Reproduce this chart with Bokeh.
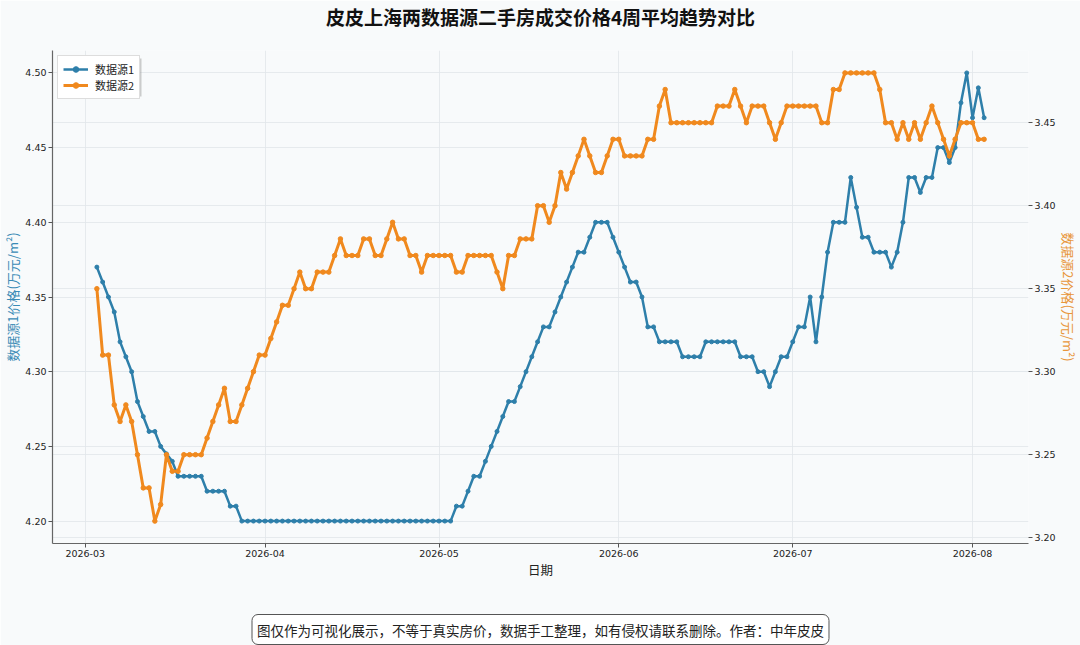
import pandas as pd
from bokeh.plotting import figure
from bokeh.models import (Range1d, LinearAxis, Grid, FixedTicker, DatetimeTickFormatter,
                          MonthsTicker, PrintfTickFormatter, Legend, LegendItem, Title,
                          BoxAnnotation)
from bokeh.embed import file_html
from bokeh.resources import INLINE

# ---------------- data ----------------
start_date = "2026-03-03"

source1_price = [
    4.37, 4.36, 4.35, 4.34, 4.32, 4.31, 4.30, 4.28, 4.27, 4.26,
    4.26, 4.25, 4.245, 4.24, 4.23, 4.23, 4.23, 4.23, 4.23, 4.22,
    4.22, 4.22, 4.22, 4.21, 4.21,
    4.20, 4.20, 4.20, 4.20, 4.20, 4.20, 4.20, 4.20, 4.20, 4.20,
    4.20, 4.20, 4.20, 4.20, 4.20, 4.20, 4.20, 4.20, 4.20, 4.20,
    4.20, 4.20, 4.20, 4.20, 4.20, 4.20, 4.20, 4.20, 4.20, 4.20,
    4.20, 4.20, 4.20, 4.20, 4.20, 4.20, 4.20,
    4.21, 4.21, 4.22, 4.23, 4.23, 4.24, 4.25, 4.26, 4.27, 4.28,
    4.28, 4.29, 4.30, 4.31, 4.32, 4.33, 4.33, 4.34, 4.35, 4.36,
    4.37, 4.38, 4.38, 4.39, 4.40, 4.40, 4.40, 4.39, 4.38, 4.37,
    4.36, 4.36, 4.35, 4.33, 4.33, 4.32, 4.32, 4.32, 4.32, 4.31,
    4.31, 4.31, 4.31,
    4.32, 4.32, 4.32, 4.32, 4.32, 4.32, 4.31, 4.31, 4.31, 4.30,
    4.30, 4.29, 4.30, 4.31, 4.31, 4.32, 4.33, 4.33, 4.35, 4.32,
    4.35, 4.38, 4.40, 4.40, 4.40, 4.43, 4.41, 4.39, 4.39, 4.38,
    4.38, 4.38, 4.37, 4.38, 4.40, 4.43, 4.43, 4.42, 4.43, 4.43,
    4.45, 4.45, 4.44, 4.45, 4.48, 4.50, 4.47, 4.49, 4.47,
]

source2_price = [
    3.35, 3.31, 3.31, 3.28, 3.27, 3.28, 3.27, 3.25, 3.23, 3.23,
    3.21, 3.22, 3.25, 3.24, 3.24, 3.25, 3.25, 3.25, 3.25, 3.26,
    3.27, 3.28, 3.29, 3.27, 3.27, 3.28, 3.29, 3.30, 3.31, 3.31,
    3.32, 3.33, 3.34, 3.34, 3.35, 3.36, 3.35, 3.35, 3.36, 3.36,
    3.36, 3.37, 3.38, 3.37, 3.37, 3.37, 3.38, 3.38, 3.37, 3.37,
    3.38, 3.39, 3.38, 3.38, 3.37, 3.37, 3.36, 3.37, 3.37, 3.37,
    3.37, 3.37, 3.36, 3.36, 3.37, 3.37, 3.37, 3.37, 3.37, 3.36,
    3.35, 3.37, 3.37, 3.38, 3.38, 3.38, 3.40, 3.40, 3.39, 3.40,
    3.42, 3.41, 3.42, 3.43, 3.44, 3.43, 3.42, 3.42, 3.43, 3.44,
    3.44, 3.43, 3.43, 3.43, 3.43, 3.44, 3.44, 3.46, 3.47, 3.45,
    3.45, 3.45, 3.45, 3.45, 3.45, 3.45, 3.45, 3.46, 3.46, 3.46,
    3.47, 3.46, 3.45, 3.46, 3.46, 3.46, 3.45, 3.44, 3.45, 3.46,
    3.46, 3.46, 3.46, 3.46, 3.46, 3.45, 3.45, 3.47, 3.47, 3.48,
    3.48, 3.48, 3.48, 3.48, 3.48, 3.47, 3.45, 3.45, 3.44, 3.45,
    3.44, 3.45, 3.44, 3.45, 3.46, 3.45, 3.44, 3.43, 3.44, 3.45,
    3.45, 3.45, 3.44, 3.44,
]

left_ticks = [4.20, 4.25, 4.30, 4.35, 4.40, 4.45, 4.50]
right_ticks = [3.20, 3.25, 3.30, 3.35, 3.40, 3.45]

title_text = "皮皮上海两数据源二手房成交价格4周平均趋势对比"
left_label = "数据源1价格(万元/m²)"
right_label = "数据源2价格(万元/m²)"
x_label = "日期"
series_names = ["数据源1", "数据源2"]
footer_text = "图仅作为可视化展示，不等于真实房价，数据手工整理，如有侵权请联系删除。作者：中年皮皮"

# ---------------- style ----------------
BLUE = "#2E7FAA"
ORANGE = "#F0891E"
BG = "#f8fafb"
CJK = "Noto Sans CJK SC"
NUM = "DejaVu Sans"

dates = pd.date_range(start_date, periods=len(source1_price), freq="D")
pad = pd.Timedelta(days=(dates[-1] - dates[0]).days * 0.05)

lo1, hi1 = min(source1_price), max(source1_price)
lo2, hi2 = min(source2_price), max(source2_price)
m1 = (hi1 - lo1) * 0.05
m2 = (hi2 - lo2) * 0.05

p = figure(width=1080, height=645, x_axis_type="datetime",
           x_range=Range1d(dates[0] - pad, dates[-1] + pad),
           y_range=Range1d(lo1 - m1, hi1 + m1),
           output_backend="svg", toolbar_location=None, title_location=None,
           min_border_left=51, min_border_right=52, min_border_top=0, min_border_bottom=0,
           background_fill_color=BG, border_fill_color=BG, outline_line_color=None)

p.extra_y_ranges = {"right": Range1d(lo2 - m2, hi2 + m2)}

# axes
xa = p.xaxis[0]
xa.ticker = MonthsTicker(months=list(range(1, 13)))
xa.formatter = DatetimeTickFormatter(months="%Y-%m", days="%Y-%m")
xa.axis_label = x_label
ya = p.yaxis[0]
ya.ticker = FixedTicker(ticks=left_ticks)
ya.formatter = PrintfTickFormatter(format="%.2f")
ya.axis_label = left_label
ya.axis_label_text_color = "#3a8bb6"

ra = LinearAxis(y_range_name="right", ticker=FixedTicker(ticks=right_ticks),
                formatter=PrintfTickFormatter(format="%.2f"), axis_label=right_label)
ra.axis_label_text_color = "#e8963a"
p.add_layout(ra, "right")

for ax in (xa, ya, ra):
    ax.major_label_text_font = NUM
    ax.major_label_text_font_size = "9.5px"
    ax.major_label_text_color = "#222222"
    ax.major_tick_out = 4
    ax.major_tick_in = 0
    ax.minor_tick_line_color = None
    ax.major_tick_line_color = "#555555"
    ax.major_label_standoff = 2
    ax.axis_label_text_font = CJK
    ax.axis_label_text_font_style = "normal"
    ax.axis_label_text_font_size = "13px"
    ax.axis_label_standoff = 0
    ax.axis_line_color = "#666666"
    ax.axis_line_width = 1.2
ra.axis_line_color = None
xa.axis_label_text_font_size = "12.5px"
xa.axis_label_text_color = "#222222"
xa.axis_label_standoff = 0

# title (outer) with a thin spacer between it and the frame
p.add_layout(Title(text=" ", text_font_size="1px", standoff=18), "above")
p.add_layout(Title(text=title_text, align="center", text_font=CJK, text_font_size="19px",
                   text_font_style="bold", text_color="#111111", standoff=0), "above")

# footer below the x axis, after a spacer
p.add_layout(Title(text=" ", text_font_size="1px", standoff=27), "below")
p.add_layout(Title(text=footer_text, align="center", text_font=CJK,
                   text_font_size="13.5px", text_font_style="normal", text_color="#222222",
                   background_fill_color="white", border_line_color="#555555",
                   border_line_width=1, padding=5, border_radius=6, standoff=2), "below")

# grids
for g in p.grid:
    g.grid_line_color = "#e1e6ea"
    g.grid_line_alpha = 0.8
p.add_layout(Grid(dimension=1, ticker=ra.ticker, y_range_name="right",
                  grid_line_color="#e1e6ea", grid_line_alpha=0.8))

# series
l1 = p.line(dates, source1_price, line_color=BLUE, line_width=2.5)
s1 = p.scatter(dates, source1_price, size=4, fill_color=BLUE, line_color=BLUE)
l2 = p.line(dates, source2_price, line_color=ORANGE, line_width=3, y_range_name="right")
s2 = p.scatter(dates, source2_price, size=4.5, fill_color=ORANGE, line_color=ORANGE,
               y_range_name="right")

# legend shadow (screen units relative to frame bottom-left)
p.add_layout(BoxAnnotation(left=9, right=89, top=485, bottom=447,
                           left_units="screen", right_units="screen",
                           top_units="screen", bottom_units="screen",
                           fill_color="#888888", fill_alpha=0.4, line_color=None))

legend = Legend(items=[LegendItem(label=series_names[0], renderers=[l1, s1]),
                       LegendItem(label=series_names[1], renderers=[l2, s2])],
                location="top_left")
legend.margin = 5
legend.padding = 5
legend.spacing = 0
legend.glyph_width = 25
legend.glyph_height = 14
legend.label_standoff = 7
legend.label_height = 14
legend.label_text_font = CJK
legend.label_text_font_size = "11px"
legend.label_text_color = "#222222"
legend.border_line_color = "#bbbbbb"
legend.background_fill_color = "white"
legend.background_fill_alpha = 1.0
p.add_layout(legend)

open("out.html", "w").write(file_html(p, INLINE))
